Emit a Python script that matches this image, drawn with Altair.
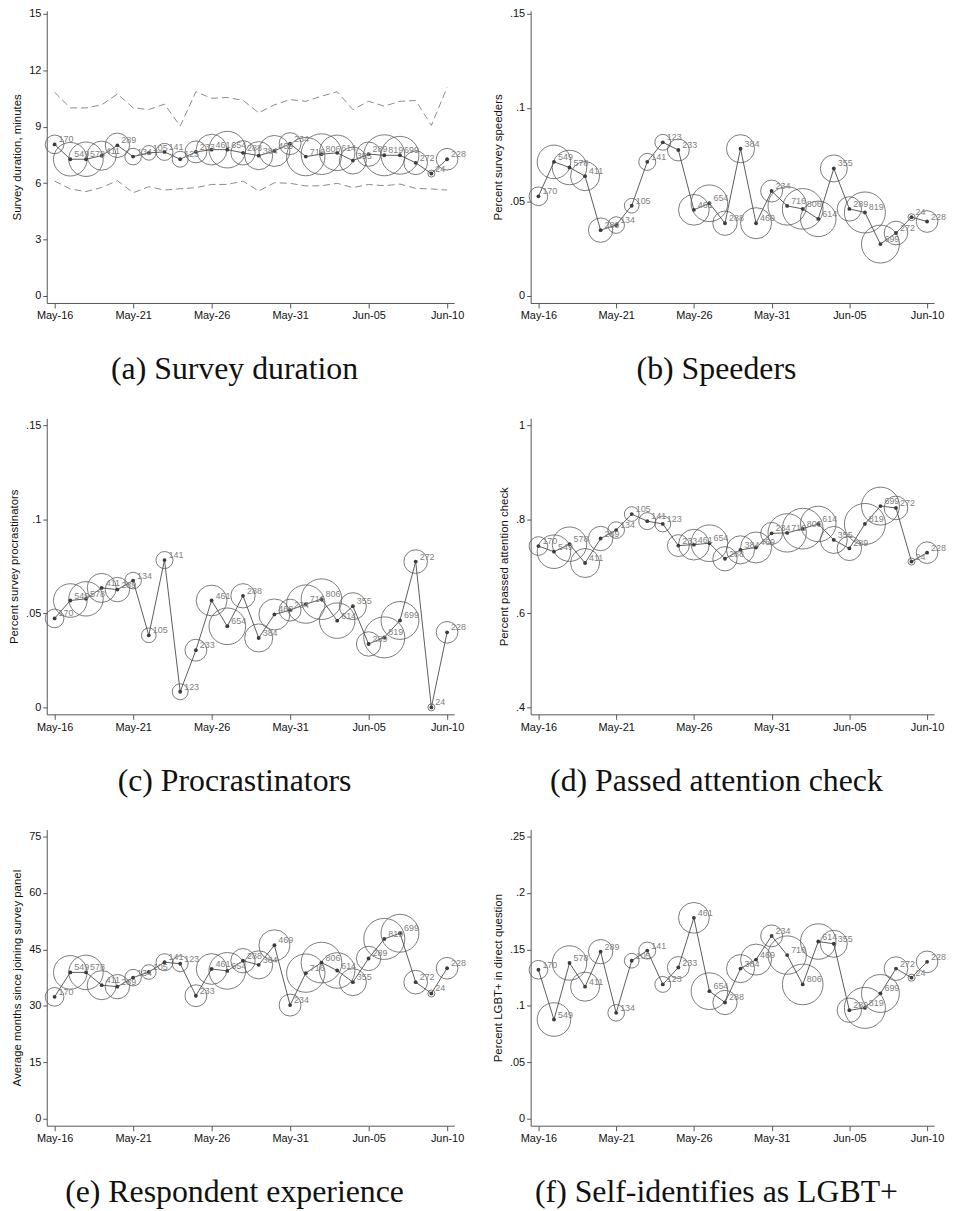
import json
import altair as alt
import pandas as pd

# ---------------- data ----------------
dates = ["May-16", "May-17", "May-18", "May-19", "May-20", "May-21", "May-22",
         "May-23", "May-24", "May-25", "May-26", "May-27", "May-28", "May-29",
         "May-30", "May-31", "Jun-01", "Jun-02", "Jun-03", "Jun-04", "Jun-05",
         "Jun-06", "Jun-07", "Jun-08", "Jun-09", "Jun-10"]
tick_labels = ["May-16", "May-21", "May-26", "May-31", "Jun-05", "Jun-10"]

n_resp = [170, 549, 578, 411, 289, 134, 105, 141, 123, 233, 461, 654, 288,
          384, 469, 234, 716, 806, 614, 355, 289, 819, 699, 272, 24, 228]

duration = [8.06, 7.27, 7.27, 7.46, 8.01, 7.41, 7.61, 7.66, 7.27, 7.66, 7.78,
            7.78, 7.61, 7.46, 7.71, 8.10, 7.41, 7.54, 7.61, 7.20, 7.54, 7.48,
            7.48, 7.08, 6.51, 7.27]
duration_high = [10.83, 10.0, 10.0, 10.16, 10.74, 10.0, 9.91, 10.2, 9.03, 10.86,
                 10.51, 10.55, 10.4, 9.74, 10.16, 10.44, 10.35, 10.62, 10.86,
                 9.91, 10.35, 10.09, 10.35, 10.39, 9.07, 11.09]
duration_low = [6.11, 5.69, 5.55, 5.77, 6.13, 5.49, 5.81, 5.63, 5.70, 5.76, 5.93,
                5.93, 6.11, 5.58, 6.02, 5.99, 5.85, 5.86, 5.99, 5.76, 5.93, 5.86,
                5.95, 5.72, 5.69, 5.63]
speeders = [0.053, 0.0713, 0.0683, 0.0637, 0.035, 0.0377, 0.048, 0.0713, 0.0817,
            0.0776, 0.0458, 0.0493, 0.0387, 0.0783, 0.0387, 0.0558, 0.0479,
            0.0463, 0.041, 0.0678, 0.0463, 0.0444, 0.0276, 0.0335, 0.0419, 0.0396]
procrastinators = [0.0473, 0.0568, 0.0577, 0.0635, 0.0626, 0.0674, 0.0383, 0.0783,
                   0.0083, 0.0304, 0.0568, 0.0431, 0.0593, 0.0369, 0.0494, 0.0517,
                   0.0549, 0.0575, 0.0461, 0.0538, 0.0337, 0.0372, 0.0462, 0.0775,
                   0.0, 0.0399]
attention = [0.743, 0.731, 0.747, 0.707, 0.759, 0.777, 0.811, 0.796, 0.790, 0.744,
             0.746, 0.749, 0.716, 0.735, 0.740, 0.770, 0.771, 0.780, 0.790, 0.756,
             0.738, 0.790, 0.828, 0.824, 0.710, 0.729]
experience = [32.4, 38.9, 38.9, 35.5, 35.1, 37.5, 39.0, 41.6, 41.2, 32.7, 39.8,
              39.3, 42.0, 40.9, 46.1, 30.2, 38.7, 41.5, 39.4, 36.3, 42.6, 47.8,
              49.3, 36.3, 33.3, 40.0]
lgbt = [0.132, 0.0879, 0.138, 0.117, 0.148, 0.0938, 0.140, 0.149, 0.119, 0.134,
        0.178, 0.113, 0.103, 0.133, 0.141, 0.162, 0.145, 0.119, 0.157, 0.155,
        0.0961, 0.0982, 0.111, 0.133, 0.125, 0.139]

# ---------------- helpers ----------------
AX_FONT = "Liberation Sans"
tick_days = [dates.index(t) for t in tick_labels]
x_label_expr = json.dumps(dates) + "[datum.value]"
y_label_expr = "replace(format(datum.value, '.2~f'), '0.', '.')"


def panel(values, ytitle, yticks, caption, width, height, top_px, extra=None):
    lo_v, hi_v = yticks[0], yticks[-1]
    R = hi_v - lo_v
    per_px = R / 284.0
    dom = [lo_v - 7 * per_px, hi_v + top_px * per_px]
    df = pd.DataFrame({
        "day": list(range(len(dates))),
        "date": dates,
        "n": n_resp,
        "value": values,
        "label": [str(v) for v in n_resp],
    })
    x = alt.X("day:Q", scale=alt.Scale(domain=[-0.5, 25.45], nice=False, zero=False),
              axis=alt.Axis(values=tick_days, labelExpr=x_label_expr, title=None,
                            grid=False, tickSize=5, labelPadding=2))
    y = alt.Y("value:Q", scale=alt.Scale(domain=dom, nice=False, zero=False),
              axis=alt.Axis(values=yticks, labelExpr=y_label_expr, title=ytitle,
                            grid=False, tickSize=4, labelPadding=2, titlePadding=6))
    base = alt.Chart(df)
    rings = base.mark_point(shape="circle", filled=False, strokeWidth=0.8,
                            color="#5a5a5a", opacity=1).encode(
        x=x, y=y,
        size=alt.Size("n:Q", scale=alt.Scale(domain=[0, 1000], range=[0, 2080]),
                      legend=None))
    line = base.mark_line(color="#4a4a4a", strokeWidth=0.9).encode(x=x, y=y)
    dots = base.mark_circle(size=15, color="#3c3c3c", opacity=1).encode(x=x, y=y)
    labels = base.mark_text(align="left", baseline="middle", dx=4, dy=-5,
                            fontSize=9, font=AX_FONT, color="#808080").encode(
        x=x, y=y, text="label:N")
    layers = [rings]
    if extra is not None:
        ex_df = pd.DataFrame(extra)
        layers.append(alt.Chart(ex_df).mark_line(strokeDash=[7, 4], color="#8a8a8a",
                                                 strokeWidth=1).encode(
            x=x, y=y, detail="series:N"))
    layers += [line, dots, labels]
    return alt.layer(*layers).properties(
        width=width, height=height,
        title=alt.TitleParams(text=caption, orient="bottom", anchor="middle",
                              font="Liberation Serif", fontSize=32,
                              fontWeight="normal", color="#111111",
                              baseline="top", offset=34, dx=-16),
    )


band = {
    "day": list(range(len(dates))) * 2,
    "value": duration_high + duration_low,
    "series": ["high"] * len(dates) + ["low"] * len(dates),
}

pa = panel(duration, "Survey duration, minutes", [0, 3, 6, 9, 12, 15],
           "(a) Survey duration", 410, 294, 3, extra=band)
pb = panel(speeders, "Percent survey speeders", [0, 0.05, 0.1, 0.15],
           "(b) Speeders", 406, 294, 3)
pc = panel(procrastinators, "Percent survey procrastinators", [0, 0.05, 0.1, 0.15],
           "(c) Procrastinators", 410, 298, 7)
pd_ = panel(attention, "Percent passed attention check", [0.4, 0.6, 0.8, 1.0],
            "(d) Passed attention check", 406, 298, 7)
pe = panel(experience, "Average months since joining survey panel",
           [0, 15, 30, 45, 60, 75], "(e) Respondent experience", 410, 298, 7)
pf = panel(lgbt, "Percent LGBT+ in direct question", [0, 0.05, 0.1, 0.15, 0.2, 0.25],
           "(f) Self-identifies as LGBT+", 406, 298, 7)

chart = alt.concat(pa, pb, pc, pd_, pe, pf, columns=2,
                   spacing={"row": 33, "column": 26}).properties(
    padding={"left": 0, "top": -4, "right": 0, "bottom": 0},
    background="white",
).configure_view(stroke=None).configure_axis(
    labelFont=AX_FONT, titleFont=AX_FONT, labelFontSize=11, titleFontSize=11.5,
    titleFontWeight="normal", labelColor="#111111", titleColor="#111111",
    domainColor="#555555", tickColor="#555555", domainWidth=1, tickWidth=1
)

chart.save("out.html", embed_options={"renderer": "svg", "actions": False})
